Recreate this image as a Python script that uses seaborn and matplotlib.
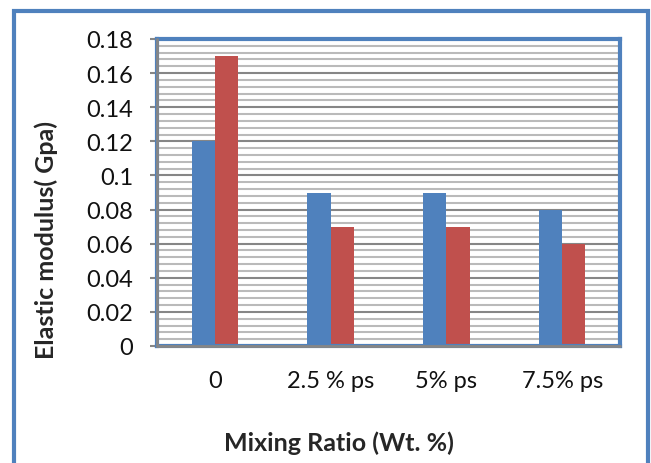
import matplotlib
matplotlib.use("Agg")
import matplotlib.pyplot as plt
import matplotlib.patches as patches
from matplotlib.ticker import MultipleLocator
import seaborn as sns
import pandas as pd

# data
categories = ['0', '2.5 % ps', '5% ps', '7.5% ps']
series_a = [0.12, 0.09, 0.09, 0.08]   # blue bars
series_b = [0.17, 0.07, 0.07, 0.06]   # red bars
yticks = [0, 0.02, 0.04, 0.06, 0.08, 0.1, 0.12, 0.14, 0.16, 0.18]
ytick_labels = ['0', '0.02', '0.04', '0.06', '0.08', '0.1', '0.12', '0.14', '0.16', '0.18']

df = pd.DataFrame({
    'Mixing': categories * 2,
    'Modulus': series_a + series_b,
    'Series': ['A'] * len(categories) + ['B'] * len(categories),
})

sns.set_style('white')
plt.rcParams['font.family'] = ['Lato', 'DejaVu Sans']

blue = '#4F81BD'
red = '#C0504D'

fig = plt.figure(figsize=(6.51, 4.64), dpi=100)
ax = fig.add_axes([157/651, 1 - 347/464, (620 - 157)/651, (347 - 40)/464])

sns.barplot(data=df, x='Mixing', y='Modulus', hue='Series', order=categories,
            palette=[blue, red], width=0.4, saturation=1, legend=False, ax=ax,
            edgecolor='none', linewidth=0)

ax.set_xlim(-0.5, 3.5)
ax.set_ylim(0, 0.18)
ax.set_yticks(yticks)
ax.set_yticklabels(ytick_labels)
ax.yaxis.set_minor_locator(MultipleLocator(0.004))
ax.grid(which='minor', axis='y', color='#BABABA', linewidth=1.5)
ax.grid(which='major', axis='y', color='#868686', linewidth=1.5)
ax.set_axisbelow(True)

ax.tick_params(axis='y', which='major', length=5, width=1.5, color='#868686',
               pad=12, labelsize=17, left=True, labelcolor='#111111')
ax.tick_params(axis='y', which='minor', length=0)
ax.tick_params(axis='x', length=0, pad=17, labelsize=17, labelcolor='#111111')

for s in ax.spines.values():
    s.set_color(blue)
    s.set_linewidth(3)
ax.plot([0, 0], [0, 1], color='#868686', lw=2, transform=ax.transAxes, clip_on=False, zorder=5)
ax.plot([0, 1], [0, 0], color='#868686', lw=2, transform=ax.transAxes, clip_on=False, zorder=5)

ax.set_xlabel('')
ax.set_ylabel('')
fig.text(46/651, 1 - 240/464, 'Elastic modulus( Gpa)', rotation=90, ha='center', va='center',
         fontsize=18, fontweight='bold')
fig.text(339/651, 1 - 443/464, 'Mixing Ratio (Wt. %)', ha='center', va='center',
         fontsize=18, fontweight='bold')

# outer chart border
fig.patches.append(patches.Rectangle((14/651, -0.1), (648 - 14)/651, (464 - 12)/464 + 0.1,
                                     transform=fig.transFigure, fill=False,
                                     edgecolor=blue, linewidth=3))

fig.savefig('out.png', dpi=100)
